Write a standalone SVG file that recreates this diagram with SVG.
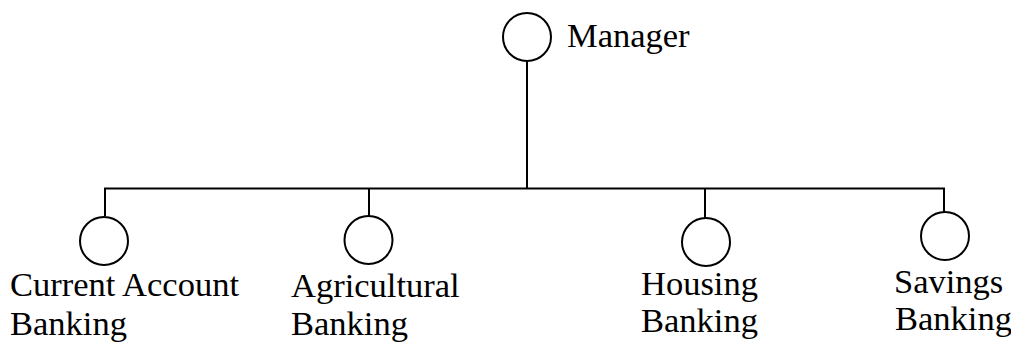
<svg xmlns="http://www.w3.org/2000/svg" width="1011" height="342" viewBox="0 0 1011 342">
  <style>
    .node circle { fill: #ffffff; stroke: #000000; stroke-width: 2; }
    .conn line { stroke: #000000; stroke-width: 2; }
    text { font-family: "Liberation Serif", "Times New Roman", serif; font-size: 34.5px; fill: #000000; }
  </style>
  <rect width="1011" height="342" fill="#ffffff"/>
  <g id="connectors" class="conn">
    <line x1="527" y1="61" x2="527" y2="188.5"/>
    <line x1="104" y1="188.5" x2="945" y2="188.5"/>
    <line x1="105" y1="188" x2="105" y2="216"/>
    <line x1="369" y1="188" x2="369" y2="216"/>
    <line x1="705" y1="188" x2="705" y2="218"/>
    <line x1="944" y1="188" x2="944" y2="212"/>
  </g>
  <g id="manager" class="node">
    <circle cx="527" cy="37" r="24"/>
    <text x="567" y="47">Manager</text>
  </g>
  <g id="current-account" class="node">
    <circle cx="104" cy="241" r="24"/>
    <text x="10" y="296">Current Account</text>
    <text x="10" y="335">Banking</text>
  </g>
  <g id="agricultural" class="node">
    <circle cx="368.5" cy="240" r="24"/>
    <text x="291" y="297">Agricultural</text>
    <text x="291" y="335">Banking</text>
  </g>
  <g id="housing" class="node">
    <circle cx="706" cy="242" r="24"/>
    <text x="641" y="295">Housing</text>
    <text x="641" y="332">Banking</text>
  </g>
  <g id="savings" class="node">
    <circle cx="945" cy="236" r="24"/>
    <text x="894" y="293">Savings</text>
    <text x="895" y="330">Banking</text>
  </g>
</svg>
